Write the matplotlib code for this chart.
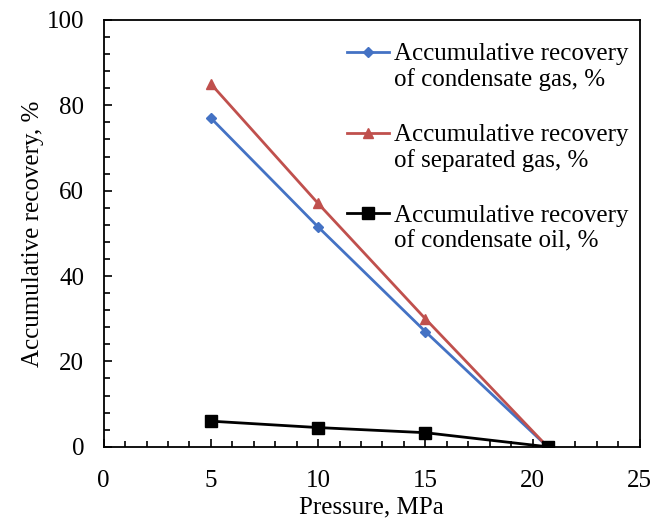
import matplotlib.pyplot as plt
from matplotlib.ticker import MultipleLocator
from matplotlib.legend_handler import HandlerLine2D

plt.rcParams['font.family'] = ['Liberation Serif', 'DejaVu Serif']

# Data
pressure = [5, 10, 15, 20.7]
gas_recovery = [77, 51.5, 27, 0]
separated_recovery = [85, 57, 30, 0]
oil_recovery = [6, 4.5, 3.3, 0]

labels = ["Accumulative recovery\nof condensate gas, %",
          "Accumulative recovery\nof separated gas, %",
          "Accumulative recovery\nof condensate oil, %"]


# legend handle aligned with the first line of a two-line label
class HandlerTop(HandlerLine2D):
    def create_artists(self, legend, orig_handle, xdescent, ydescent,
                       width, height, fontsize, trans):
        artists = super().create_artists(legend, orig_handle, xdescent, ydescent,
                                         width, height, fontsize, trans)
        for a in artists:
            a.set_ydata([y + 0.6 * fontsize for y in a.get_ydata()])
        return artists


fig = plt.figure(figsize=(6.65, 5.25), dpi=100)
ax = fig.add_axes([0.156, 0.149, 0.806, 0.813])

ax.plot(pressure, gas_recovery, color='#4472C4', marker='D', markersize=5, lw=2, label=labels[0])
ax.plot(pressure, separated_recovery, color='#C0504D', marker='^', markersize=7, lw=2, label=labels[1])
ax.plot(pressure, oil_recovery, color='black', marker='s', markersize=9, lw=2, label=labels[2])

ax.set_xlim(0, 25)
ax.set_ylim(0, 100)
ax.xaxis.set_major_locator(MultipleLocator(5))
ax.xaxis.set_minor_locator(MultipleLocator(1))
ax.yaxis.set_major_locator(MultipleLocator(20))
ax.yaxis.set_minor_locator(MultipleLocator(4))
ax.tick_params(which='both', direction='in', labelsize=18, width=1.2)
ax.tick_params(which='major', length=6)
ax.tick_params(which='minor', length=4)
ax.tick_params(axis='x', pad=17)
ax.tick_params(axis='y', pad=14)
for s in ax.spines.values():
    s.set_linewidth(1.3)

ax.set_xlabel("Pressure, MPa", fontsize=18, labelpad=3)
ax.set_ylabel("Accumulative recovery, %", fontsize=18, labelpad=2)

ax.legend(loc='upper right', bbox_to_anchor=(0.998, 0.97), frameon=False,
          fontsize=18, handlelength=1.7, handletextpad=0.2, labelspacing=1.3,
          borderaxespad=0, handler_map={plt.Line2D: HandlerTop()})

fig.savefig("out.png", dpi=100)
